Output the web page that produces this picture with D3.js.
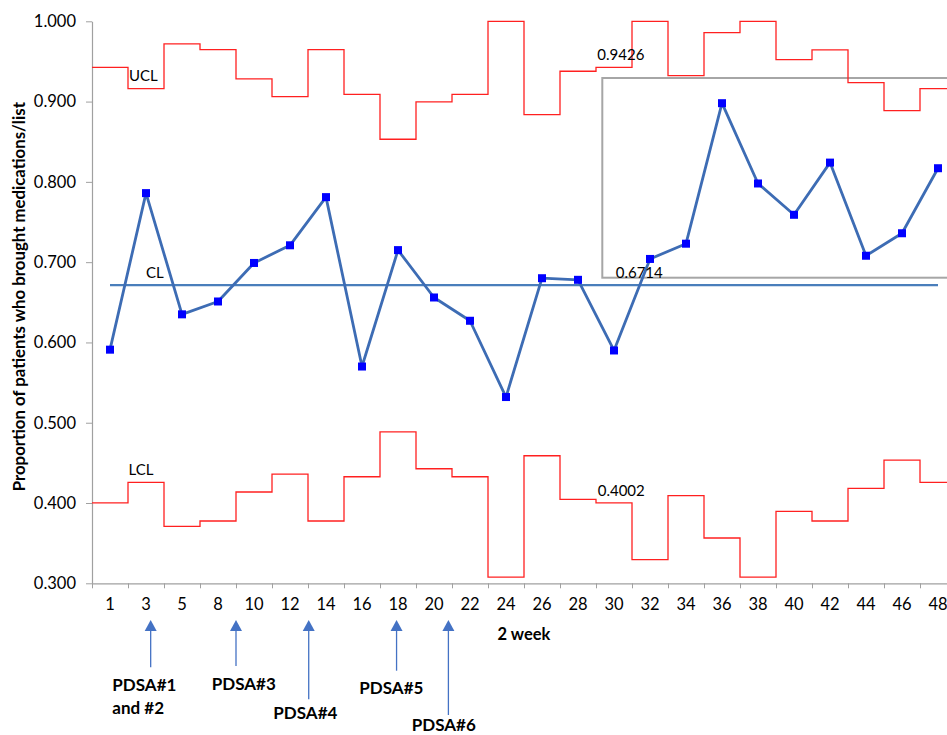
<!DOCTYPE html>
<html><head><meta charset="utf-8">
<script src="https://cdn.jsdelivr.net/npm/d3@7"></script>
<style>
html,body{margin:0;padding:0;background:#fff;}
svg{display:block;font-family:Lato,"Open Sans",sans-serif;}
</style></head>
<body>
<svg id="chart" width="947" height="735"></svg>
<script>
// ---- data ----
const categories = ["1","3","5","8","10","12","14","16","18","20","22","24","26","28","30","32","34","36","38","40","42","44","46","48"];
const proportion = [0.591,0.786,0.635,0.651,0.699,0.721,0.781,0.570,0.715,0.656,0.627,0.532,0.680,0.678,0.590,0.704,0.723,0.898,0.798,0.759,0.824,0.708,0.736,0.817];
const ucl = [0.9426,0.9162,0.9718,0.9648,0.9282,0.9062,0.9648,0.9091,0.8531,0.8996,0.9091,1.000,0.8838,0.9378,0.9426,1.000,0.9324,0.9860,1.000,0.9523,0.9643,0.9237,0.8888,0.9162];
const lcl = [0.4002,0.4257,0.3710,0.3776,0.4137,0.4361,0.3776,0.4327,0.4887,0.4427,0.4327,0.3078,0.4589,0.4046,0.4002,0.3294,0.4091,0.3564,0.3078,0.3896,0.3776,0.4183,0.4535,0.4257];
const centerLine = 0.6714;
const yTicks = [0.3,0.4,0.5,0.6,0.7,0.8,0.9,1.0];
const pdsaNames = ["PDSA#1|and #2","PDSA#3","PDSA#4","PDSA#5","PDSA#6"];
const pdsaAt = [1.63,4.0,6.02,8.46,9.9]; // position along the x axis in band units

// ---- layout ----
const svg = d3.select("#chart");
const mLeft = 92, mTop = 21.3, mBottom = 583.3, bandW = 36;
const mRight = mLeft + bandW * categories.length;

const x = d3.scaleBand().domain(categories).range([mLeft, mRight]).padding(0);
const xi = d3.scaleLinear().domain([0, categories.length]).range([mLeft, mRight]);
const y = d3.scaleLinear().domain([0.3, 1.0]).range([mBottom, mTop]);

// y axis
const yAxis = svg.append("g").attr("transform", `translate(${mLeft},0)`)
  .call(d3.axisLeft(y).tickValues(yTicks).tickFormat(d3.format(".3f")).tickSize(6).tickSizeOuter(0).tickPadding(10));
yAxis.select(".domain").attr("stroke", "#a0a0a0").attr("stroke-width", 1.2);
yAxis.selectAll(".tick line").attr("stroke", "#a0a0a0");
yAxis.selectAll(".tick text").attr("font-size", 16.5).attr("fill", "#000").attr("font-family", "Lato");

// x axis: boundary ticks
const xTickG = svg.append("g").attr("transform", `translate(0,${mBottom})`)
  .call(d3.axisBottom(xi).tickValues(d3.range(0, categories.length + 1)).tickFormat("").tickSize(5).tickSizeOuter(0));
xTickG.select(".domain").attr("stroke", "#a0a0a0").attr("stroke-width", 1.2);
xTickG.selectAll(".tick line").attr("stroke", "#a0a0a0");
// x axis labels
const xLab = svg.append("g").attr("transform", `translate(0,${mBottom})`)
  .call(d3.axisBottom(x).tickSize(0).tickPadding(15));
xLab.select(".domain").remove();
xLab.selectAll(".tick text").attr("font-size", 16.5).attr("fill", "#000").attr("font-family", "Lato");

// axis titles
svg.append("text").attr("x", 524).attr("y", 634).attr("dy", "0.35em")
  .attr("text-anchor", "middle").attr("font-weight", "bold").attr("font-size", 16.5)
  .text("2 week");
svg.append("text").attr("transform", "translate(18.8,296.7) rotate(-90)").attr("dy", "0.35em")
  .attr("text-anchor", "middle").attr("font-weight", "bold").attr("font-size", 16.8)
  .text("Proportion of patients who brought medications/list");

// gray box
svg.append("rect").attr("x", 602.3).attr("y", 78).attr("width", 400).attr("height", 199.7)
  .attr("fill", "none").attr("stroke", "#a6a6a6").attr("stroke-width", 2);

// step lines
function stepPoints(vals) {
  const pts = [];
  vals.forEach((v, i) => {
    const x0 = x(categories[i]);
    pts.push([x0, y(v)], [x0 + x.bandwidth(), y(v)]);
  });
  return pts;
}
const line = d3.line();
svg.append("path").attr("d", line(stepPoints(ucl))).attr("fill", "none").attr("stroke", "#ff2020").attr("stroke-width", 1.3);
svg.append("path").attr("d", line(stepPoints(lcl))).attr("fill", "none").attr("stroke", "#ff2020").attr("stroke-width", 1.3);

// center line
const cx = c => x(c) + x.bandwidth() / 2;
svg.append("line")
  .attr("x1", cx(categories[0])).attr("x2", cx(categories[categories.length - 1]))
  .attr("y1", y(centerLine)).attr("y2", y(centerLine))
  .attr("stroke", "#4a7ebb").attr("stroke-width", 2.2);

// data line
svg.append("path")
  .attr("d", d3.line().x((d, i) => cx(categories[i])).y(d => y(d))(proportion))
  .attr("fill", "none").attr("stroke", "#3d6cb4").attr("stroke-width", 2.8).attr("stroke-linejoin", "round");
svg.append("g").selectAll("rect").data(proportion).join("rect")
  .attr("x", (d, i) => cx(categories[i]) - 4).attr("y", d => y(d) - 4)
  .attr("width", 8).attr("height", 8).attr("fill", "#0000ff");

// labels
const lab = (tx, ty, t) => svg.append("text").attr("x", tx).attr("y", ty).attr("dy", "0.35em")
  .attr("font-size", 15).attr("fill", "#000").text(t);
lab(129, 76, "UCL");
lab(146, 273, "CL");
lab(128.5, 470, "LCL");
lab(597.3, 55, "0.9426");
lab(615.7, 272.5, "0.6714");
lab(597.7, 490.3, "0.4002");

// PDSA arrows
const arrowTop = 620;
const arrowBottoms = [667.3, 666, 699.3, 670.7, 715];
const labelPos = [[112.3, 685], [211.7, 684.3], [273.3, 712.7], [359.3, 687.7], [411.7, 725]];
pdsaAt.forEach((p, i) => {
  const ax = xi(p);
  svg.append("line").attr("x1", ax).attr("x2", ax).attr("y1", arrowTop + 8).attr("y2", arrowBottoms[i])
    .attr("stroke", "#4472c4").attr("stroke-width", 1.3);
  svg.append("path").attr("d", `M${ax},${arrowTop} L${ax - 6},${arrowTop + 11} L${ax + 6},${arrowTop + 11} Z`)
    .attr("fill", "#4472c4");
  const lines = pdsaNames[i].split("|");
  lines.forEach((t, k) => {
    svg.append("text").attr("x", labelPos[i][0]).attr("y", labelPos[i][1] + k * 23.3).attr("dy", "0.35em")
      .attr("font-weight", "bold").attr("font-size", 17).attr("fill", "#000").text(t);
  });
});
</script>
</body></html>
